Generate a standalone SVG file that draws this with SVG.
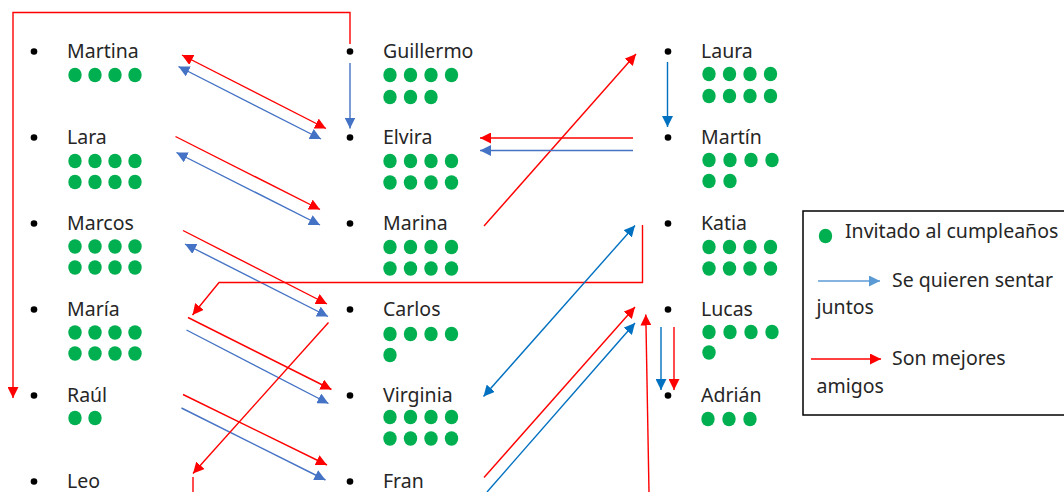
<svg xmlns="http://www.w3.org/2000/svg" width="1064" height="492" viewBox="0 0 1064 492">
  <defs>
    <style>
      .name { font-family: "Noto Sans", "Open Sans", sans-serif; font-size: 19.5px; fill: #262626; }
      .leg { font-family: "Noto Sans", "Open Sans", sans-serif; font-size: 19.5px; fill: #262626; }
      .dot { fill: #00B050; }
      .bul { fill: #000; }
      .c { fill: none; stroke-width: 1.4; }
      .red { stroke: #FF0000; }
      .b1 { stroke: #4472C4; }
      .b2 { stroke: #0070C0; }
      .b3 { stroke: #5B9BD5; }
    </style>
    <marker id="aR" viewBox="0 0 11 11" refX="11" refY="5.5" markerWidth="11" markerHeight="11" markerUnits="userSpaceOnUse" orient="auto-start-reverse">
      <path d="M0,0 L11,5.5 L0,11 z" fill="#FF0000"/>
    </marker>
    <marker id="aB1" viewBox="0 0 11 11" refX="11" refY="5.5" markerWidth="11" markerHeight="11" markerUnits="userSpaceOnUse" orient="auto-start-reverse">
      <path d="M0,0 L11,5.5 L0,11 z" fill="#4472C4"/>
    </marker>
    <marker id="aB2" viewBox="0 0 11 11" refX="11" refY="5.5" markerWidth="11" markerHeight="11" markerUnits="userSpaceOnUse" orient="auto-start-reverse">
      <path d="M0,0 L11,5.5 L0,11 z" fill="#0070C0"/>
    </marker>
    <marker id="aB3" viewBox="0 0 11 11" refX="11" refY="5.5" markerWidth="11" markerHeight="11" markerUnits="userSpaceOnUse" orient="auto-start-reverse">
      <path d="M0,0 L11,5.5 L0,11 z" fill="#5B9BD5"/>
    </marker>
  </defs>

  <rect width="1064" height="492" fill="#FFFFFF"/>

  <!-- Column 1 -->
  <g id="martina">
    <circle class="bul" cx="34" cy="51.5" r="3.3"/>
    <text class="name" x="67" y="58">Martina</text>
    <g class="dot"><ellipse cx="75" cy="75" rx="6.7" ry="7.3"/><ellipse cx="95" cy="75" rx="6.7" ry="7.3"/><ellipse cx="115" cy="75" rx="6.7" ry="7.3"/><ellipse cx="135" cy="75" rx="6.7" ry="7.3"/></g>
  </g>
  <g id="lara">
    <circle class="bul" cx="34" cy="137.5" r="3.3"/>
    <text class="name" x="67" y="144">Lara</text>
    <g class="dot"><ellipse cx="75" cy="161" rx="6.7" ry="7.3"/><ellipse cx="95" cy="161" rx="6.7" ry="7.3"/><ellipse cx="115" cy="161" rx="6.7" ry="7.3"/><ellipse cx="135" cy="161" rx="6.7" ry="7.3"/>
    <ellipse cx="75" cy="182" rx="6.7" ry="7.3"/><ellipse cx="95" cy="182" rx="6.7" ry="7.3"/><ellipse cx="115" cy="182" rx="6.7" ry="7.3"/><ellipse cx="135" cy="182" rx="6.7" ry="7.3"/></g>
  </g>
  <g id="marcos">
    <circle class="bul" cx="34" cy="223.5" r="3.3"/>
    <text class="name" x="67" y="230">Marcos</text>
    <g class="dot"><ellipse cx="75" cy="246.5" rx="6.7" ry="7.3"/><ellipse cx="95" cy="246.5" rx="6.7" ry="7.3"/><ellipse cx="115" cy="246.5" rx="6.7" ry="7.3"/><ellipse cx="135" cy="246.5" rx="6.7" ry="7.3"/>
    <ellipse cx="75" cy="267.5" rx="6.7" ry="7.3"/><ellipse cx="95" cy="267.5" rx="6.7" ry="7.3"/><ellipse cx="115" cy="267.5" rx="6.7" ry="7.3"/><ellipse cx="135" cy="267.5" rx="6.7" ry="7.3"/></g>
  </g>
  <g id="maria">
    <circle class="bul" cx="34" cy="309.5" r="3.3"/>
    <text class="name" x="67" y="316">María</text>
    <g class="dot"><ellipse cx="75" cy="332.5" rx="6.7" ry="7.3"/><ellipse cx="95" cy="332.5" rx="6.7" ry="7.3"/><ellipse cx="115" cy="332.5" rx="6.7" ry="7.3"/><ellipse cx="135" cy="332.5" rx="6.7" ry="7.3"/>
    <ellipse cx="75" cy="353.5" rx="6.7" ry="7.3"/><ellipse cx="95" cy="353.5" rx="6.7" ry="7.3"/><ellipse cx="115" cy="353.5" rx="6.7" ry="7.3"/><ellipse cx="135" cy="353.5" rx="6.7" ry="7.3"/></g>
  </g>
  <g id="raul">
    <circle class="bul" cx="34" cy="395.5" r="3.3"/>
    <text class="name" x="67" y="402">Raúl</text>
    <g class="dot"><ellipse cx="75" cy="418" rx="6.7" ry="7.3"/><ellipse cx="95" cy="418" rx="6.7" ry="7.3"/></g>
  </g>
  <g id="leo">
    <circle class="bul" cx="34" cy="481.5" r="3.3"/>
    <text class="name" x="67" y="488">Leo</text>
  </g>

  <!-- Column 2 -->
  <g id="guillermo">
    <circle class="bul" cx="350" cy="51.5" r="3.3"/>
    <text class="name" x="383" y="58">Guillermo</text>
    <g class="dot"><ellipse cx="390" cy="75" rx="6.7" ry="7.3"/><ellipse cx="410.5" cy="75" rx="6.7" ry="7.3"/><ellipse cx="431" cy="75" rx="6.7" ry="7.3"/><ellipse cx="451.5" cy="75" rx="6.7" ry="7.3"/>
    <ellipse cx="390" cy="97" rx="6.7" ry="7.3"/><ellipse cx="410.5" cy="97" rx="6.7" ry="7.3"/><ellipse cx="431" cy="97" rx="6.7" ry="7.3"/></g>
  </g>
  <g id="elvira">
    <circle class="bul" cx="350" cy="137.5" r="3.3"/>
    <text class="name" x="383" y="144">Elvira</text>
    <g class="dot"><ellipse cx="390" cy="161" rx="6.7" ry="7.3"/><ellipse cx="410.5" cy="161" rx="6.7" ry="7.3"/><ellipse cx="431" cy="161" rx="6.7" ry="7.3"/><ellipse cx="451.5" cy="161" rx="6.7" ry="7.3"/>
    <ellipse cx="390" cy="182.5" rx="6.7" ry="7.3"/><ellipse cx="410.5" cy="182.5" rx="6.7" ry="7.3"/><ellipse cx="431" cy="182.5" rx="6.7" ry="7.3"/><ellipse cx="451.5" cy="182.5" rx="6.7" ry="7.3"/></g>
  </g>
  <g id="marina">
    <circle class="bul" cx="350" cy="223.5" r="3.3"/>
    <text class="name" x="383" y="230">Marina</text>
    <g class="dot"><ellipse cx="390" cy="247" rx="6.7" ry="7.3"/><ellipse cx="410.5" cy="247" rx="6.7" ry="7.3"/><ellipse cx="431" cy="247" rx="6.7" ry="7.3"/><ellipse cx="451.5" cy="247" rx="6.7" ry="7.3"/>
    <ellipse cx="390" cy="268.5" rx="6.7" ry="7.3"/><ellipse cx="410.5" cy="268.5" rx="6.7" ry="7.3"/><ellipse cx="431" cy="268.5" rx="6.7" ry="7.3"/><ellipse cx="451.5" cy="268.5" rx="6.7" ry="7.3"/></g>
  </g>
  <g id="carlos">
    <circle class="bul" cx="350" cy="309.5" r="3.3"/>
    <text class="name" x="383" y="316">Carlos</text>
    <g class="dot"><ellipse cx="390" cy="334" rx="6.7" ry="7.3"/><ellipse cx="410.5" cy="334" rx="6.7" ry="7.3"/><ellipse cx="431" cy="334" rx="6.7" ry="7.3"/><ellipse cx="451.5" cy="334" rx="6.7" ry="7.3"/>
    <ellipse cx="390" cy="355" rx="6.7" ry="7.3"/></g>
  </g>
  <g id="virginia">
    <circle class="bul" cx="350" cy="395.5" r="3.3"/>
    <text class="name" x="383" y="402">Virginia</text>
    <g class="dot"><ellipse cx="390" cy="417" rx="6.7" ry="7.3"/><ellipse cx="410.5" cy="417" rx="6.7" ry="7.3"/><ellipse cx="431" cy="417" rx="6.7" ry="7.3"/><ellipse cx="451.5" cy="417" rx="6.7" ry="7.3"/>
    <ellipse cx="390" cy="438.5" rx="6.7" ry="7.3"/><ellipse cx="410.5" cy="438.5" rx="6.7" ry="7.3"/><ellipse cx="431" cy="438.5" rx="6.7" ry="7.3"/><ellipse cx="451.5" cy="438.5" rx="6.7" ry="7.3"/></g>
  </g>
  <g id="fran">
    <circle class="bul" cx="350" cy="481.5" r="3.3"/>
    <text class="name" x="383" y="488">Fran</text>
  </g>

  <!-- Column 3 -->
  <g id="laura">
    <circle class="bul" cx="668" cy="51.5" r="3.3"/>
    <text class="name" x="701" y="58">Laura</text>
    <g class="dot"><ellipse cx="709" cy="74" rx="6.7" ry="7.3"/><ellipse cx="729.5" cy="74" rx="6.7" ry="7.3"/><ellipse cx="750" cy="74" rx="6.7" ry="7.3"/><ellipse cx="770.5" cy="74" rx="6.7" ry="7.3"/>
    <ellipse cx="709" cy="96" rx="6.7" ry="7.3"/><ellipse cx="729.5" cy="96" rx="6.7" ry="7.3"/><ellipse cx="750" cy="96" rx="6.7" ry="7.3"/><ellipse cx="770.5" cy="96" rx="6.7" ry="7.3"/></g>
  </g>
  <g id="martin">
    <circle class="bul" cx="668" cy="137.5" r="3.3"/>
    <text class="name" x="701" y="144">Martín</text>
    <g class="dot"><ellipse cx="709" cy="160" rx="6.7" ry="7.3"/><ellipse cx="730" cy="160" rx="6.7" ry="7.3"/><ellipse cx="751" cy="160" rx="6.7" ry="7.3"/><ellipse cx="772" cy="160" rx="6.7" ry="7.3"/>
    <ellipse cx="709" cy="181" rx="6.7" ry="7.3"/><ellipse cx="730" cy="181" rx="6.7" ry="7.3"/></g>
  </g>
  <g id="katia">
    <circle class="bul" cx="668" cy="223.5" r="3.3"/>
    <text class="name" x="701" y="230">Katia</text>
    <g class="dot"><ellipse cx="709" cy="247" rx="6.7" ry="7.3"/><ellipse cx="729.5" cy="247" rx="6.7" ry="7.3"/><ellipse cx="750" cy="247" rx="6.7" ry="7.3"/><ellipse cx="770.5" cy="247" rx="6.7" ry="7.3"/>
    <ellipse cx="709" cy="268.5" rx="6.7" ry="7.3"/><ellipse cx="729.5" cy="268.5" rx="6.7" ry="7.3"/><ellipse cx="750" cy="268.5" rx="6.7" ry="7.3"/><ellipse cx="770.5" cy="268.5" rx="6.7" ry="7.3"/></g>
  </g>
  <g id="lucas">
    <circle class="bul" cx="668" cy="309.5" r="3.3"/>
    <text class="name" x="701" y="316">Lucas</text>
    <g class="dot"><ellipse cx="709" cy="332" rx="6.7" ry="7.3"/><ellipse cx="730" cy="332" rx="6.7" ry="7.3"/><ellipse cx="751" cy="332" rx="6.7" ry="7.3"/><ellipse cx="772" cy="332" rx="6.7" ry="7.3"/>
    <ellipse cx="709" cy="352.5" rx="6.7" ry="7.3"/></g>
  </g>
  <g id="adrian">
    <circle class="bul" cx="668" cy="395.5" r="3.3"/>
    <text class="name" x="701" y="402">Adrián</text>
    <g class="dot"><ellipse cx="708" cy="419" rx="6.7" ry="7.3"/><ellipse cx="729" cy="419" rx="6.7" ry="7.3"/><ellipse cx="750" cy="419" rx="6.7" ry="7.3"/></g>
  </g>

  <!-- Connectors -->
  <g id="connectors">
    <!-- Guillermo -> Raúl -->
    <path class="c red" d="M350,44 V12.5 H13 V398" marker-end="url(#aR)"/>
    <!-- Martina <-> Elvira -->
    <line class="c red" x1="182" y1="55" x2="326" y2="128.5" marker-start="url(#aR)" marker-end="url(#aR)"/>
    <line class="c b1" x1="178.5" y1="66.5" x2="321" y2="139" marker-start="url(#aB1)" marker-end="url(#aB1)"/>
    <!-- Guillermo -> Elvira -->
    <line class="c b1" x1="350" y1="63" x2="350" y2="128.5" marker-end="url(#aB1)"/>
    <!-- Lara -> Marina -->
    <line class="c red" x1="175.5" y1="136.5" x2="320" y2="209.5" marker-end="url(#aR)"/>
    <line class="c b1" x1="176.5" y1="152.5" x2="320" y2="225" marker-start="url(#aB1)" marker-end="url(#aB1)"/>
    <!-- Marcos -> Carlos -->
    <line class="c red" x1="183" y1="230.5" x2="327" y2="304" marker-end="url(#aR)"/>
    <line class="c b1" x1="185" y1="244" x2="328" y2="316.5" marker-start="url(#aB1)" marker-end="url(#aB1)"/>
    <!-- María -> Virginia -->
    <line class="c red" x1="188" y1="317.5" x2="331.5" y2="389.5" marker-end="url(#aR)"/>
    <line class="c b1" x1="186.5" y1="330" x2="328.5" y2="403.5" marker-end="url(#aB1)"/>
    <!-- Raúl -> Fran -->
    <line class="c red" x1="183" y1="394.5" x2="327" y2="465" marker-end="url(#aR)"/>
    <line class="c b1" x1="181.5" y1="408" x2="325.5" y2="480" marker-end="url(#aB1)"/>
    <!-- Carlos -> Leo -->
    <line class="c red" x1="328.5" y1="322.5" x2="193" y2="473.5" marker-end="url(#aR)"/>
    <line class="c red" x1="193" y1="477" x2="193" y2="492"/>
    <!-- Katia -> María -->
    <path class="c red" d="M642.5,225 V282.5 H219 L192.5,315" marker-end="url(#aR)"/>
    <!-- Marina -> Laura -->
    <line class="c red" x1="484" y1="226" x2="636" y2="54" marker-end="url(#aR)"/>
    <!-- Martín -> Elvira -->
    <line class="c red" x1="633" y1="138" x2="480" y2="138" marker-end="url(#aR)"/>
    <line class="c b1" x1="633" y1="150.5" x2="480" y2="150.5" marker-end="url(#aB1)"/>
    <!-- Laura -> Martín -->
    <line class="c b2" x1="667.5" y1="62" x2="667.5" y2="127" marker-end="url(#aB2)"/>
    <!-- Virginia <-> Katia -->
    <line class="c b2" x1="483.5" y1="396.5" x2="635" y2="225.5" marker-start="url(#aB2)" marker-end="url(#aB2)"/>
    <!-- Fran -> Lucas -->
    <line class="c red" x1="484" y1="477.5" x2="635" y2="307" marker-end="url(#aR)"/>
    <line class="c b2" x1="487" y1="492" x2="635" y2="323" marker-end="url(#aB2)"/>
    <!-- From below -> Lucas -->
    <line class="c red" x1="649" y1="492" x2="645.8" y2="314.5" marker-end="url(#aR)"/>
    <!-- Lucas -> Adrián -->
    <line class="c b2" x1="661" y1="327" x2="661" y2="390" marker-end="url(#aB2)"/>
    <line class="c red" x1="674" y1="327" x2="674" y2="390" marker-end="url(#aR)"/>
  </g>

  <!-- Legend -->
  <g id="legend">
    <rect x="803" y="211" width="270" height="204" fill="#FFFFFF" stroke="#000" stroke-width="1.5"/>
    <ellipse class="dot" cx="825.5" cy="236" rx="6.7" ry="7.3"/>
    <text class="leg" x="845" y="238">Invitado al cumpleaños</text>
    <line class="c b3" x1="818" y1="281" x2="880" y2="281" marker-end="url(#aB3)"/>
    <text class="leg" x="892" y="287">Se quieren sentar</text>
    <text class="leg" x="816.5" y="314">juntos</text>
    <line class="c red" x1="811" y1="359" x2="881" y2="359" marker-end="url(#aR)"/>
    <text class="leg" x="892" y="365">Son mejores</text>
    <text class="leg" x="816.5" y="393">amigos</text>
  </g>
</svg>
